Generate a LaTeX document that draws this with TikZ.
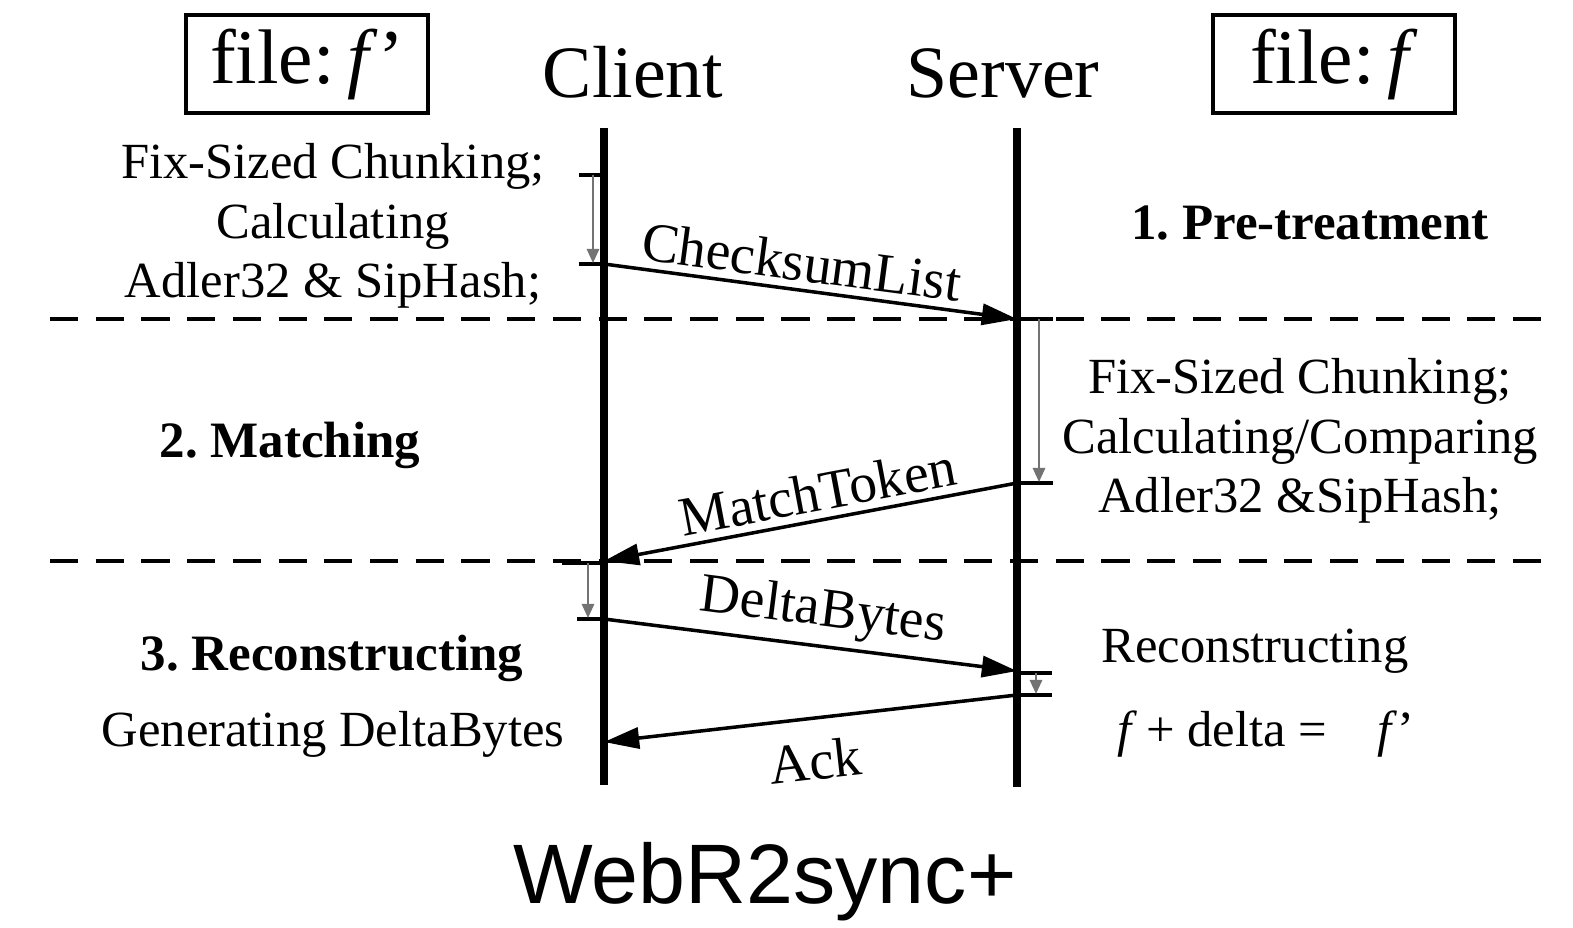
\documentclass[tikz,border=0pt]{standalone}
\usepackage{fontspec}
\setmainfont{Liberation Serif}
\newfontfamily\titlefont{Liberation Sans}
\usetikzlibrary{arrows.meta, positioning}
\frenchspacing

\tikzset{
  lifeline/.style={line width=2.2pt},
  msg/.style={line width=1pt, -{Triangle[length=10pt,width=6pt]}},
  msglabel/.style={font=\fontsize{15.8}{18}\selectfont, sloped, inner sep=2pt},
  tick/.style={line width=1pt},
  note/.style={black!55, line width=0.6pt, -{Triangle[length=4pt,width=3.5pt]}},
  phaseline/.style={line width=1pt, dash pattern=on 8pt off 5pt},
  filebox/.style={draw, line width=1pt, minimum width=2.42cm, minimum height=0.98cm,
    font=\fontsize{22}{24}\selectfont},
  actor/.style={font=\fontsize{21}{24}\selectfont, anchor=base},
  sidetext/.style={font=\fontsize{14.4}{17}\selectfont, align=center, inner sep=0pt},
  phase/.style={font=\fontsize{14.5}{17}\selectfont\bfseries, inner sep=0pt}
}

\begin{document}
\begin{tikzpicture}[x=0.01cm, y=-0.01cm]
\useasboundingbox (0,0) rectangle (1573,927);

  % Headers
  \node[filebox] (fprime) at (307,64) {file:\,\textit{f}’};
  \node[filebox] (forig)  at (1334,64) {file:\,\textit{f}};
  \node[actor] (client) at (633,97) {Client};
  \node[actor] (server) at (1003,97) {Server};

  % Lifelines
  \coordinate (ctop) at (604,128);  \coordinate (cbot) at (604,785);
  \coordinate (stop) at (1017,128); \coordinate (sbot) at (1017,787);
  \draw[lifeline] (ctop) -- (cbot);
  \draw[lifeline] (stop) -- (sbot);

  % Phase separators
  \coordinate (d1l) at (50,319); \coordinate (d1r) at (1545,319);
  \coordinate (d2l) at (50,561); \coordinate (d2r) at (1545,561);
  \draw[phaseline] (d1l) -- (d1r);
  \draw[phaseline] (d2l) -- (d2r);

  % Local processing marks
  \foreach \xa/\xb/\y in {579/604/175, 579/604/264, 1017/1053/319, 1017/1053/483,
                          562/604/563, 577/604/619, 1017/1052/673, 1017/1052/695}
    \draw[tick] (\xa,\y) -- (\xb,\y);
  \foreach \x/\ya/\yb in {593/175/263, 1039/319/482, 588/563/618, 1036/673/694}
    \draw[note] (\x,\ya) -- (\x,\yb);

  % Messages
  \coordinate (cA) at (604,264);  \coordinate (sA) at (1017,319);
  \coordinate (sB) at (1017,483); \coordinate (cB) at (604,561);
  \coordinate (cC) at (604,619);  \coordinate (sC) at (1017,671);
  \coordinate (sD) at (1017,695); \coordinate (cD) at (604,742);
  \draw[msg] (cA) -- node[msglabel, above, pos=0.47] {ChecksumList} (sA);
  \draw[msg] (sB) -- node[msglabel, above, pos=0.47] {MatchToken} (cB);
  \draw[msg] (cC) -- node[msglabel, above, pos=0.52] {DeltaBytes} (sC);
  \draw[msg] (sD) -- node[msglabel, below=4pt, pos=0.5] {Ack} (cD);

  % Phase names
  \node[phase] (p1) at (1310,223) {1. Pre-treatment};
  \node[phase] (p2) at (290,445)  {2. Matching};
  \node[phase] (p3) at (332,658)  {3. Reconstructing};

  % Steps on each side
  \node[sidetext] (cprep) at (333,226) {Fix-Sized Chunking;\\Calculating\\Adler32 \& SipHash;};
  \node[sidetext] (smatch) at (1300,441) {Fix-Sized Chunking;\\Calculating/Comparing\\Adler32 \&SipHash;};
  \node[sidetext] (cgen) at (333,734) {Generating DeltaBytes};
  \node[sidetext] (srec) at (1255,651) {Reconstructing};
  \node[sidetext] (seq) at (1266,734) {\textit{f}\,+ delta =\quad\textit{f}’};

  % Title
  \node[font=\titlefont\fontsize{24}{27}\selectfont] (title) at (765,882) {WebR2sync+};
\end{tikzpicture}
\end{document}
